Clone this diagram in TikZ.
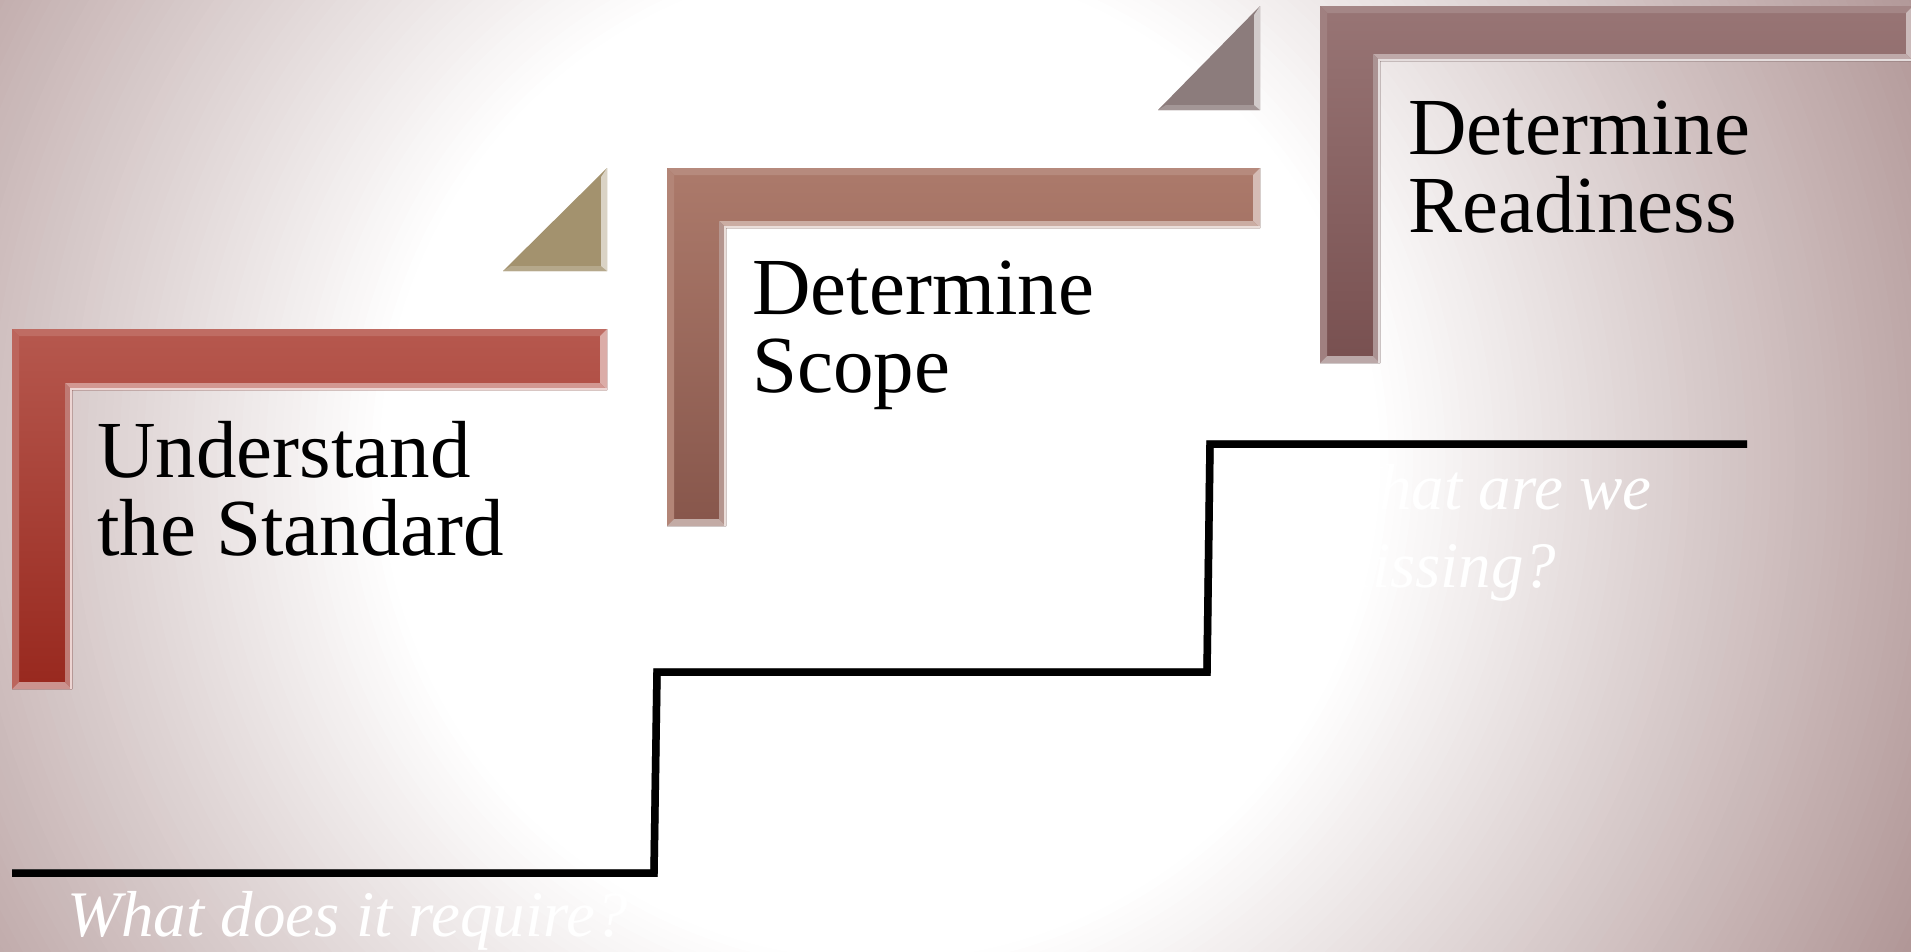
\documentclass[tikz,border=0pt]{standalone}
\usepackage{fontspec}
\setmainfont{Liberation Serif}
\usetikzlibrary{calc}

% background tone (mixed with white towards the middle)
\definecolor{bgD}{RGB}{174,147,147}
% step colours
\definecolor{redTop}{RGB}{182,88,78}
\definecolor{redBot}{RGB}{152,40,30}
\definecolor{clayTop}{RGB}{172,122,107}
\definecolor{clayBot}{RGB}{135,86,75}
\definecolor{plumTop}{RGB}{152,117,117}
\definecolor{plumBot}{RGB}{120,80,80}
\definecolor{oliveTri}{RGB}{163,146,110}
\definecolor{greyTri}{RGB}{140,124,124}

% L-shaped step: #1 left, #2 top, #3 right end, #4 bar bottom,
% #5 inner right of upright, #6 bottom, #7 top colour, #8 bottom colour
\newcommand\stepbracket[8]{%
  \fill[top color=#7, bottom color=#8]
    (#1,#2) -- (#3,#2) -- (#3,#4) -- (#5,#4) -- (#5,#6) -- (#1,#6) -- cycle;
  % bevel faces
  \fill[#7!88!white] (#1,#2) -- (#3,#2) -- (#3-7,#2+7) -- (#1+7,#2+7) -- cycle;
  \fill[#7!92!white] (#1,#2) -- (#1+7,#2+7) -- (#1+7,#6-7) -- (#1,#6) -- cycle;
  \fill[#7!50!white] (#3,#2) -- (#3,#4) -- (#3-7,#4-7) -- (#3-7,#2+7) -- cycle;
  \fill[#7!62!white] (#5,#4) -- (#3,#4) -- (#3-7,#4-7) -- (#5-7,#4-7) -- cycle;
  \fill[#8!62!white] (#5,#4) -- (#5,#6) -- (#5-7,#6-7) -- (#5-7,#4-7) -- cycle;
  \fill[#8!50!white] (#1,#6) -- (#5,#6) -- (#5-7,#6-7) -- (#1+7,#6-7) -- cycle;
  \draw[white!75!#7, line width=1.6] (#5-0.8,#6) -- (#5-0.8,#4-0.8) -- (#3,#4-0.8);
}

% right-angled riser: #1 left, #2 top, #3 right, #4 bottom, #5 colour
\newcommand\steptri[5]{%
  \fill[#5] (#1,#4) -- (#3,#2) -- (#3,#4) -- cycle;
  \fill[#5!80!white] (#1,#4) -- (#3,#4) -- (#3-6,#4-5) -- (#1+8,#4-5) -- cycle;
  \fill[#5!40!white] (#3,#2) -- (#3,#4) -- (#3-6,#4-5) -- (#3-6,#2+9) -- cycle;
}

\tikzset{
  steplabel/.style={font=\fontsize{81}{78}\selectfont, align=left,
    inner sep=0pt, text=black},
  question/.style={font=\fontsize{65}{78}\selectfont\itshape, align=left,
    inner sep=0pt, text=white},
  stair/.style={line width=7.5pt, line join=miter},
  stairshade/.style={line width=7.5pt, line join=miter, black!45},
}

\begin{document}
\begin{tikzpicture}[x=1pt, y=-1pt]
\useasboundingbox (0,0) rectangle (1911,951);

% soft glow behind everything: rings from the mauve rim to the white middle
\begin{scope}
  \clip (0,0) rectangle (1911,951);
  \fill[bgD] (0,0) rectangle (1911,951);
  \foreach \k in {0,...,90}{
    \pgfmathsetmacro\rr{1.12-\k*0.665/90}
    \pgfmathsetmacro\pp{100*min(1,max(\rr-0.455,0)/0.605)}
    \fill[bgD!\pp!white] (880,460) circle ({\rr*1100});
  }
\end{scope}

% the three steps
\stepbracket{12}{329}{607}{390}{72}{689}{redTop}{redBot}
\steptri{503}{168}{607}{271}{oliveTri}
\stepbracket{667}{168}{1260}{228}{726}{526}{clayTop}{clayBot}
\steptri{1158}{6}{1260}{110}{greyTri}
\stepbracket{1320}{6}{1913}{61}{1380}{363}{plumTop}{plumBot}

% staircase line
\coordinate (s0) at (12,873);
\coordinate (s1) at (654,873);
\coordinate (s2) at (657,672);
\coordinate (s3) at (1207,672);
\coordinate (s4) at (1210,444);
\coordinate (s5) at (1747,444);
\draw[stairshade, shift={(1.5,1.5)}] (s0) -- (s1) -- (s2) -- (s3) -- (s4) -- (s5);
\draw[stair] (s0) -- (s1) -- (s2) -- (s3) -- (s4) -- (s5);

% labels (anchored on the baseline of their last line)
\node[steplabel, anchor=base west] (understand) at (97,555) {Understand\\the Standard};
\node[steplabel, anchor=base west] (scope) at (752,392) {Determine\\Scope};
\node[steplabel, anchor=base west] (readiness) at (1408,232) {Determine\\Readiness};

\node[question, anchor=base west] (require) at (67,936) {What does it require?};
\node[question, anchor=base west] (missing) at (1325,587) {What are we\\missing?};
\end{tikzpicture}
\end{document}
